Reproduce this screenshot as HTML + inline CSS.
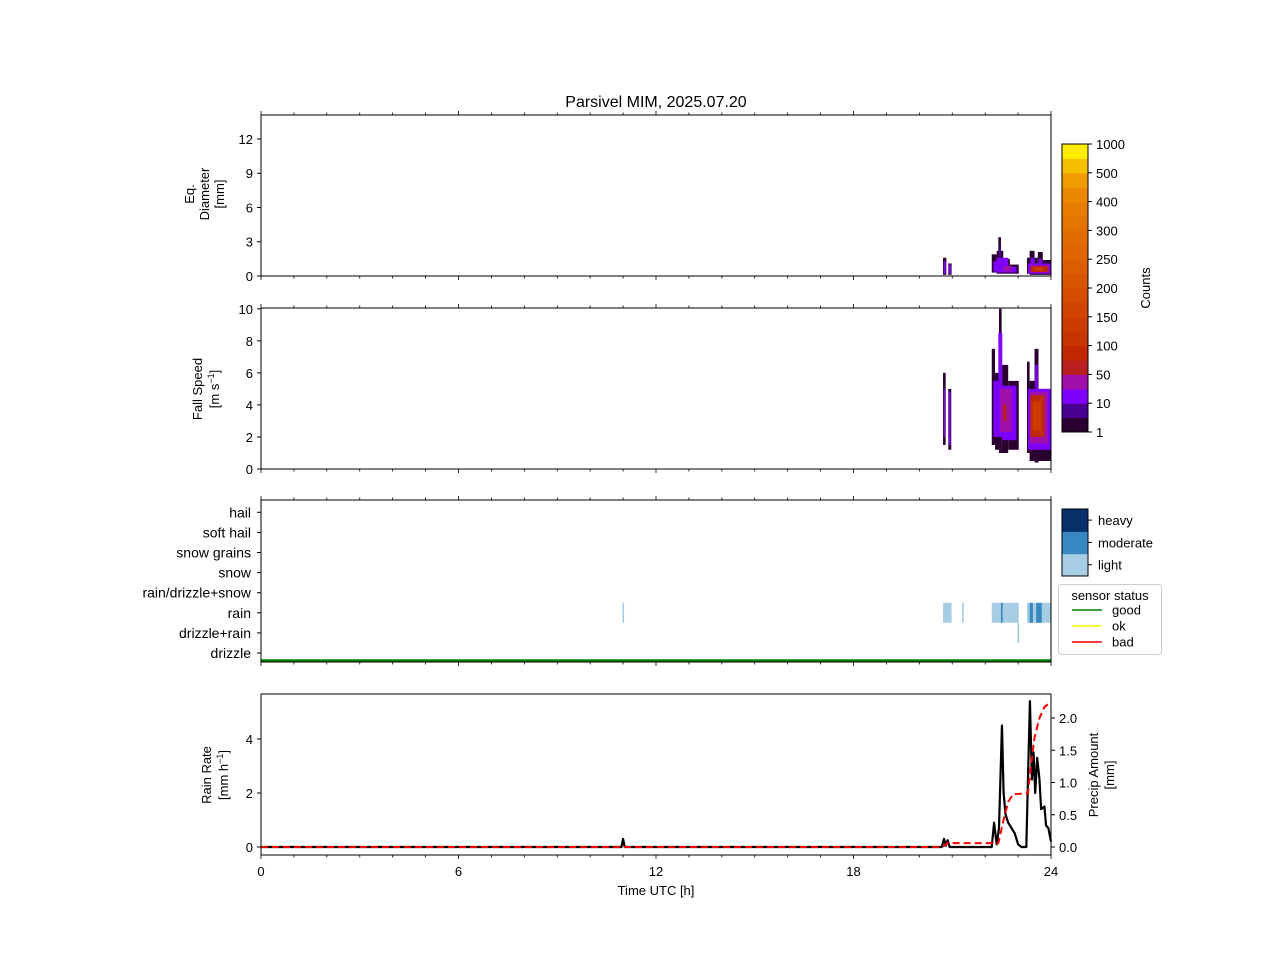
<!DOCTYPE html>
<html><head><meta charset="utf-8"><style>
body{margin:0;background:#fff}
svg{display:block;font-family:"Liberation Sans","DejaVu Sans",sans-serif}
</style></head><body>
<svg id="fig" width="1280" height="960" viewBox="0 0 1280 960">
<rect width="1280" height="960" fill="#fff"/>
<text x="656" y="107" font-size="16" text-anchor="middle">Parsivel MIM, 2025.07.20</text>
</svg>
<script>
// ---------- data ----------
const cbColors=["#2a0030","#4a0090","#8000ff","#a010a8","#b82020","#c02800","#c83400","#cc3c00","#d04400","#d44c00","#d85400","#dc5c00","#e06400","#e06c00","#e47400","#e87c00","#ec8800","#f09c00","#f4c000","#ffee00"];
const cbLabels=["1","10","50","100","150","200","250","300","400","500","1000"];
const diamTicks=[0,3,6,9,12];
const speedTicks=[0,2,4,6,8,10];
const categories=["drizzle","drizzle+rain","rain","rain/drizzle+snow","snow","snow grains","soft hail","hail"];
const rrTicks=[0,2,4];
const accTicks=[0,0.5,1.0,1.5,2.0];
const hourTicks=[0,6,12,18,24];
// spectra segments: [t0,t1,ymin,ymax,level]
const diamSegs=[
[20.72,20.82,0.1,1.6,0],[20.74,20.8,0.2,1.3,2],[20.88,20.98,0.1,1.1,0],[20.9,20.96,0.2,1.0,2],
[22.2,22.35,0.3,1.9,0],[22.35,22.55,0.2,2.2,0],[22.4,22.48,1.5,3.4,0],[22.55,22.75,0.2,1.5,0],[22.75,23.02,0.2,1.0,0],
[22.42,22.48,1.6,2.6,1],[22.25,22.35,0.4,1.3,2],[22.35,22.7,0.3,1.6,2],[22.7,22.95,0.3,0.8,2],[22.55,22.8,0.4,0.9,3],
[23.27,23.35,0.2,1.6,0],[23.35,23.5,0.1,2.2,0],[23.5,23.6,0.1,1.6,0],[23.6,23.75,0.1,2.1,0],[23.75,24.0,0.1,1.4,0],
[23.3,24.0,0.2,1.1,2],[23.38,23.5,0.5,1.6,2],[23.62,23.72,0.5,1.5,2],[23.35,23.95,0.3,0.95,3],[23.4,23.9,0.35,0.85,5],[23.5,23.75,0.45,0.75,7]
];
const speedSegs=[
[20.72,20.8,1.5,6.0,0],[20.74,20.78,2.0,5.0,2],[20.88,20.97,1.2,5.0,0],[20.9,20.95,1.5,4.8,2],
[22.2,22.3,1.5,7.5,0],[22.3,22.42,1.2,6.0,0],[22.42,22.5,1.0,10.0,0],[22.5,22.7,1.0,6.5,0],[22.7,23.02,1.2,5.5,0],
[22.25,22.4,2.0,5.5,2],[22.4,22.52,2.0,8.5,2],[22.52,22.95,1.8,5.2,2],[22.45,22.8,2.3,5.0,3],[22.55,22.65,3.0,4.0,4],
[23.27,23.35,1.0,6.7,0],[23.35,23.5,0.5,5.5,0],[23.5,23.62,0.4,7.5,0],[23.62,24.0,0.5,5.0,0],
[23.3,24.0,1.2,5.0,2],[23.52,23.6,1.2,6.5,2],[23.35,23.9,1.6,4.8,3],[23.38,23.8,2.0,4.6,5],[23.45,23.7,2.4,4.2,7]
];
// weather class bars: [t0,t1,catIndex,intensity 0 light 1 moderate 2 heavy]
const wxBars=[
[10.98,11.03,2,0],[20.72,20.98,2,0],[21.3,21.35,2,0],[22.2,23.02,2,0],[22.48,22.53,2,1],[23.27,24.0,2,0],[23.35,23.45,2,1],[23.55,23.72,2,1],[22.98,23.03,1,0]
];
const rrT=[0,10.95,11.0,11.05,20.68,20.75,20.8,20.86,20.92,22.2,22.27,22.35,22.42,22.51,22.56,22.62,22.7,22.8,22.9,23.0,23.1,23.25,23.3,23.36,23.42,23.47,23.52,23.58,23.65,23.7,23.8,23.85,23.92,24];
const rrV=[0,0,0.3,0,0,0.3,0.05,0.25,0,0,0.9,0.1,0.7,4.5,2.0,1.2,0.9,0.7,0.5,0.1,0,0,2.5,5.4,2.5,3.5,2.0,3.3,2.5,1.4,1.5,0.8,0.7,0.2];
const accT=[0,20.7,20.85,22.4,22.55,22.7,22.85,23.3,23.4,23.5,23.65,23.8,24];
const accV=[0,0,0.06,0.06,0.4,0.7,0.82,0.83,1.3,1.7,2.0,2.17,2.25];
const wxColors=["#a6cde3","#3787c0","#08306b"];

// ---------- layout ----------
const X0=261,X1=1051;
const xs=h=>X0+(X1-X0)*h/24;
const svg=document.getElementById('fig');
const NS="http://www.w3.org/2000/svg";
function el(tag,attrs,parent){const e=document.createElementNS(NS,tag);for(const k in attrs)e.setAttribute(k,attrs[k]);(parent||svg).appendChild(e);return e;}
function txt(x,y,s,size,anchor,parent){const t=el('text',{x:x,y:y,'font-size':size,'text-anchor':anchor},parent);t.textContent=s;return t;}

function panel(name,top,bot,opts){
  const g=el('g',{});
  
  
  for(let h=0;h<=24;h++){
    const major=h%6===0, x=xs(h), L=major?4:2.5;
    el('line',{x1:x,x2:x,y1:bot,y2:bot+L,stroke:'#000','stroke-width':0.8},g);
    if(opts.topTicks) el('line',{x1:x,x2:x,y1:top,y2:top-L,stroke:'#000','stroke-width':0.8},g);
  }
  return g;
}
function frame(g,top,bot){return el('rect',{x:X0,y:top,width:X1-X0,height:bot-top,fill:'none',stroke:'#000','stroke-width':1},g);}

// panel 1
{
  const top=115,bot=276,ymax=14.1;
  const ys=v=>bot-(bot-top)*v/ymax;
  const g=panel('diameter-panel',top,bot,{topTicks:true});
  diamSegs.forEach(s=>{
    const r=el('rect',{x:xs(s[0]),y:ys(s[3]),width:xs(s[1])-xs(s[0]),height:ys(s[2])-ys(s[3]),fill:cbColors[s[4]]},g);
    
    
  });
  diamTicks.forEach(v=>{const y=ys(v);el('line',{x1:X0-4,x2:X0,y1:y,y2:y,stroke:'#000'},g);txt(X0-8,y+5,String(v),13,'end',g);});
  frame(g,top,bot);
  const t=el('text',{transform:'translate(208,194) rotate(-90)','font-size':13,'text-anchor':'middle'},g);
  
  ['Eq.','Diameter','[mm]'].forEach((s,i)=>{const ts=el('tspan',{x:0,dy:i===0?-14:15},t);ts.textContent=s;});
}
// panel 2
{
  const top=308,bot=469,ymax=10.05;
  const ys=v=>bot-(bot-top)*v/ymax;
  const g=panel('fall-speed-panel',top,bot,{topTicks:true});
  speedSegs.forEach(s=>{
    const r=el('rect',{x:xs(s[0]),y:ys(s[3]),width:xs(s[1])-xs(s[0]),height:ys(s[2])-ys(s[3]),fill:cbColors[s[4]]},g);
    
    
  });
  speedTicks.forEach(v=>{const y=ys(v);el('line',{x1:X0-4,x2:X0,y1:y,y2:y,stroke:'#000'},g);txt(X0-8,y+5,String(v),13,'end',g);});
  frame(g,top,bot);
  const t=el('text',{transform:'translate(202,389) rotate(-90)','font-size':13,'text-anchor':'middle'},g);
  
  const a=el('tspan',{x:0,dy:0},t);a.textContent='Fall Speed';
  const b=el('tspan',{x:0,dy:17},t);b.textContent='[m s';
  const c=el('tspan',{dy:-5,'font-size':9},t);c.textContent='−1';
  const d=el('tspan',{dy:5},t);d.textContent=']';
}
// colorbar counts
{
  const g=el('g',{});
  const cx=1062,cw=26,ct=144,cb=432,bh=(cb-ct)/cbColors.length;
  cbColors.forEach((c,i)=>el('rect',{x:cx,y:cb-(i+1)*bh,width:cw,height:bh+0.5,fill:c},g));
  el('rect',{x:cx,y:ct,width:cw,height:cb-ct,fill:'none',stroke:'#000'},g);
  cbLabels.forEach((s,i)=>{const y=cb-i*(cb-ct)/(cbLabels.length-1);el('line',{x1:cx+cw,x2:cx+cw+4,y1:y,y2:y,stroke:'#000'},g);txt(cx+cw+8,y+5,s,13,'start',g);});
  const t=el('text',{transform:'translate(1150,288) rotate(-90)','font-size':13,'text-anchor':'middle'},g);t.textContent='Counts';
}
// panel 3
{
  const top=500,bot=662;
  const ys=i=>653-i*20.1;
  const g=panel('weather-class-panel',top,bot,{topTicks:true});
  wxBars.forEach(b=>{
    const r=el('rect',{x:xs(b[0]),y:ys(b[2])-10,width:Math.max(1.5,xs(b[1])-xs(b[0])),height:20,fill:wxColors[b[3]]},g);
    
    
  });
  el('line',{x1:X0,x2:X1,y1:660.5,y2:660.5,stroke:'#008000','stroke-width':2.5},g);
  categories.forEach((c,i)=>{const y=ys(i);el('line',{x1:X0-4,x2:X0,y1:y,y2:y,stroke:'#000'},g);txt(X0-10,y+5,c,14,'end',g);});
  frame(g,top,bot);
  const cg=el('g',{});
  const labs=['light','moderate','heavy'];
  for(let i=0;i<3;i++){const y=576-(i+1)*22.3;el('rect',{x:1062,y:y,width:26,height:22.8,fill:wxColors[i]},cg);el('line',{x1:1088,x2:1092,y1:y+11,y2:y+11,stroke:'#000'},cg);txt(1098,y+16,labs[i],13,'start',cg);}
  el('rect',{x:1062,y:509,width:26,height:67,fill:'none',stroke:'#000'},cg);
  const lg=el('g',{});
  el('rect',{x:1058.5,y:584.5,width:103,height:70,rx:3,fill:'#fff',stroke:'#ccc'},lg);
  txt(1110,600,'sensor status',13,'middle',lg);
  [['good','#008000'],['ok','#ffff00'],['bad','#ff0000']].forEach((e,i)=>{const y=610+i*16;el('line',{x1:1072,x2:1102,y1:y,y2:y,stroke:e[1],'stroke-width':1.6},lg);txt(1112,y+4.5,e[0],13,'start',lg);});
}
// panel 4
{
  const top=694,bot=855;
  const ys=v=>847-27*v;
  const ya=v=>847-64.5*v;
  const g=panel('rain-rate-panel',top,bot,{topTicks:false});
  const rr=el('polyline',{points:rrT.map((t,i)=>xs(t)+','+ys(rrV[i])).join(' '),fill:'none',stroke:'#000','stroke-width':2.2,'stroke-linejoin':'round'},g);
  
  const acc=el('polyline',{points:accT.map((t,i)=>xs(t)+','+ya(accV[i])).join(' '),fill:'none',stroke:'#ff0000','stroke-width':2,'stroke-dasharray':'7,4'},g);
  
  rrTicks.forEach(v=>{const y=ys(v);el('line',{x1:X0-4,x2:X0,y1:y,y2:y,stroke:'#000'},g);txt(X0-8,y+5,String(v),13,'end',g);});
  accTicks.forEach(v=>{const y=ya(v);el('line',{x1:X1,x2:X1+4,y1:y,y2:y,stroke:'#000'},g);txt(X1+8,y+5,v.toFixed(1),13,'start',g);});
  hourTicks.forEach(h=>txt(xs(h),876,String(h),13,'middle',g));
  frame(g,top,bot);
  txt(656,895,'Time UTC [h]',13,'middle',g);
  const t=el('text',{transform:'translate(211,775) rotate(-90)','font-size':13,'text-anchor':'middle'},g);
  const a=el('tspan',{x:0,dy:0},t);a.textContent='Rain Rate';
  const b=el('tspan',{x:0,dy:17},t);b.textContent='[mm h';
  const c=el('tspan',{dy:-5,'font-size':9},t);c.textContent='−1';
  const d=el('tspan',{dy:5},t);d.textContent=']';
  const t2=el('text',{transform:'translate(1098,775) rotate(-90)','font-size':13,'text-anchor':'middle'},g);
  const e=el('tspan',{x:0,dy:0},t2);e.textContent='Precip Amount';
  const f=el('tspan',{x:0,dy:16},t2);f.textContent='[mm]';
}
</script>
</body></html>
